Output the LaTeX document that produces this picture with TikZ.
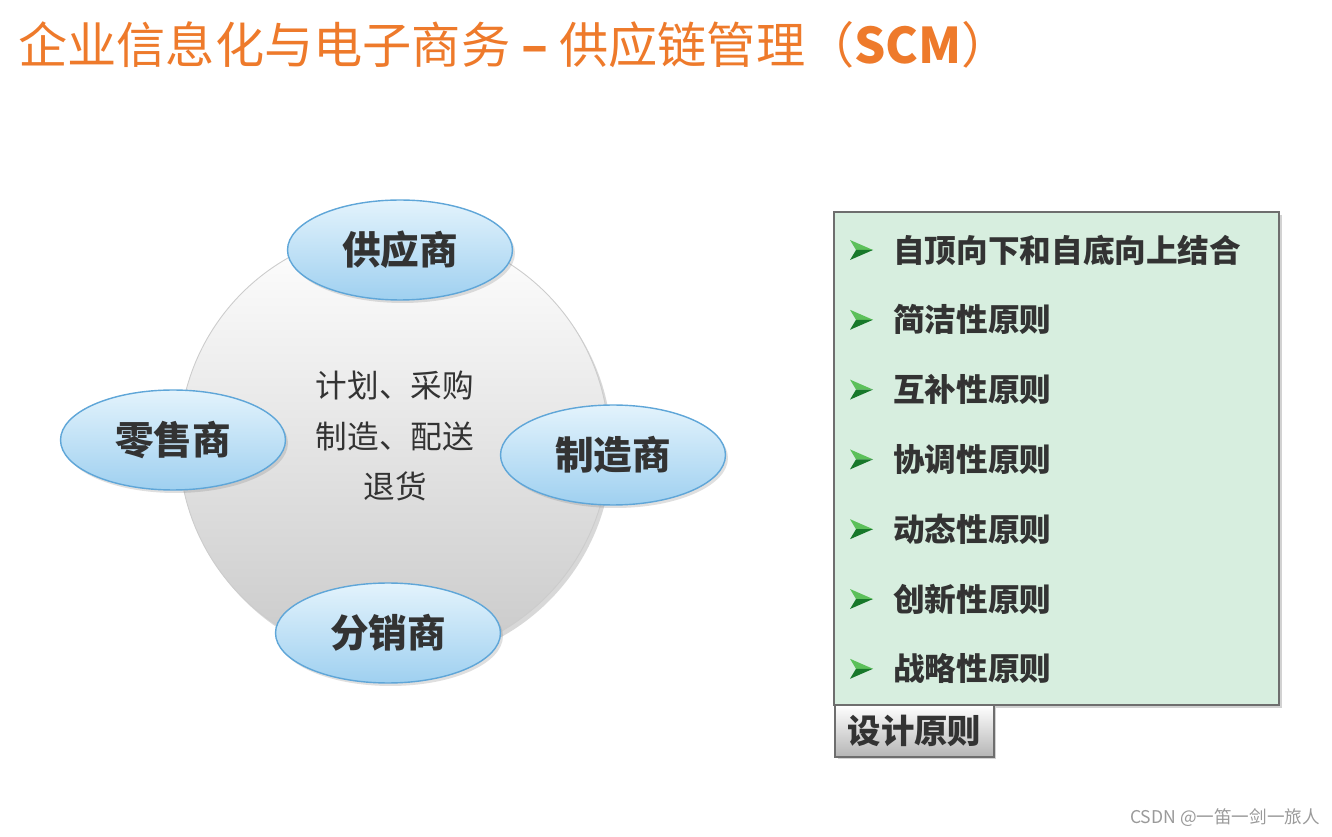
\documentclass[tikz,border=0pt]{standalone}
\usepackage{fontspec}
\setmainfont{Noto Sans CJK SC}
\usepackage{tikz}
\usetikzlibrary{shapes.geometric,shadows}
\usepackage{xcolor}
\definecolor{titleorange}{HTML}{EE7A2B}
\definecolor{darktext}{HTML}{333333}
\definecolor{partnertop}{HTML}{E3F3FC}
\definecolor{partnerbottom}{HTML}{9FD0F0}
\definecolor{partnerline}{HTML}{5FA6D8}
\definecolor{hubbottom}{HTML}{C9C9C9}
\definecolor{boxfill}{HTML}{D7EEDF}
\definecolor{boxline}{HTML}{6E6E6E}
\definecolor{bulletlight}{HTML}{5CC05A}
\definecolor{bulletdark}{HTML}{17782A}
\definecolor{tabbottom}{HTML}{B5B5B5}
\definecolor{mark}{HTML}{9A9A9A}
\tikzset{
    partner/.style={
        ellipse,
        draw=partnerline,
        line width=0.8pt,
        top color=partnertop,
        bottom color=partnerbottom,
        minimum width=4.5cm,
        minimum height=2cm,
        text=darktext,
        font=\fontsize{22}{24}\selectfont\bfseries,
        drop shadow={opacity=0.25,shadow xshift=0.5mm,shadow yshift=-0.6mm}
    },
    hub/.style={
        circle,
        draw=gray!40,
        line width=0.5pt,
        top color=white,
        bottom color=hubbottom,
        minimum size=8.6cm,
        drop shadow={opacity=0.3,shadow xshift=0.6mm,shadow yshift=-0.8mm}
    },
    tasks/.style={
        align=center,
        text=darktext,
        font=\fontsize{18}{29}\selectfont
    },
    principles/.style={
        rectangle,
        draw=boxline,
        line width=0.8pt,
        fill=boxfill,
        minimum width=8.9cm,
        minimum height=9.86cm,
        drop shadow={opacity=0.35,shadow xshift=0.6mm,shadow yshift=-0.6mm}
    },
    item/.style={
        anchor=west,
        inner sep=0pt,
        text=darktext,
        font=\fontsize{18}{20}\selectfont\bfseries
    },
    tab/.style={
        rectangle,
        draw=boxline,
        line width=0.8pt,
        top color=white,
        bottom color=tabbottom,
        minimum width=3.18cm,
        minimum height=1.04cm,
        text=darktext,
        font=\fontsize{19}{21}\selectfont\bfseries,
        drop shadow={opacity=0.35,shadow xshift=0.5mm,shadow yshift=-0.5mm}
    }
}

\begin{document}
\begin{tikzpicture}[x=0.02cm,y=-0.02cm]

    % Cadre
    \useasboundingbox (0,0) rectangle (1332,837);
    \fill[white] (0,0) rectangle (1332,837);

    % Titre
    \node[
        anchor=west,
        inner sep=0pt,
        text=titleorange,
        font=\fontsize{28}{31}\selectfont
    ]
        (title) at (18,45)
        {企业信息化与电子商务 \textbf{–} 供应链管理（\textbf{SCM}）};

    % Cercle
    \node[hub] (hub) at (394,445) {};

    \node[tasks] (tasks) at (395,436)
        {计划、采购\\制造、配送\\退货};

    % Partenaires
    \node[partner] (supplier) at (400,250) {供应商};
    \node[partner] (retailer) at (173,440) {零售商};
    \node[partner] (maker) at (613,455) {制造商};
    \node[partner] (dealer) at (388,633) {分销商};

    % Principes
    \node[principles] (box) at (1056.5,458.5) {};

    \foreach \txt [count=\i] in {
        自顶向下和自底向上结合,
        简洁性原则,
        互补性原则,
        协调性原则,
        动态性原则,
        创新性原则,
        战略性原则}
    {
        \pgfmathsetmacro{\yy}{250+(\i-1)*69.8}
        \fill[bulletlight]
            (850,\yy-10) -- (873,\yy) -- (856,\yy) -- cycle;
        \fill[bulletdark]
            (850,\yy+10) -- (873,\yy) -- (856,\yy) -- cycle;
        \node[item] (item\i) at (893,\yy) {\txt};
    }

    % Onglet
    \node[tab] (tab) at (914.5,731) {设计原则};

    % Filigrane
    \node[
        text=mark,
        inner sep=0pt,
        font=\fontsize{10}{12}\selectfont
    ]
        (mark) at (1225,818)
        {CSDN @一笛一剑一旅人};

\end{tikzpicture}
\end{document}
